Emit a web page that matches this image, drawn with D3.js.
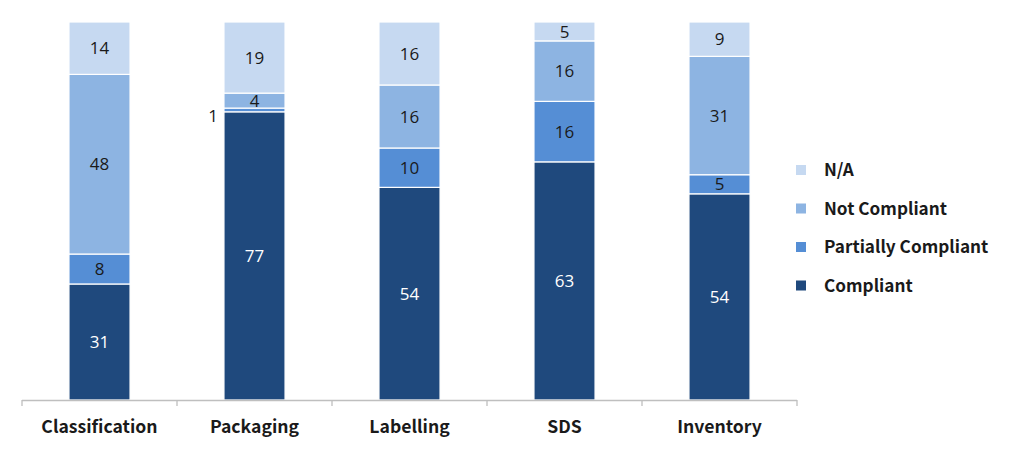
<!DOCTYPE html>
<html>
<head>
<meta charset="utf-8">
<script src="https://cdn.jsdelivr.net/npm/d3@7"></script>
<style>
html,body{margin:0;padding:0;background:#fff;}
svg{display:block;}
</style>
</head>
<body>
<svg id="chart" width="1024" height="454"></svg>
<script>
const categories = ["Classification","Packaging","Labelling","SDS","Inventory"];
const seriesNames = ["Compliant","Partially Compliant","Not Compliant","N/A"];
const compliant = [31,77,54,63,54];
const partially = [8,1,10,16,5];
const notCompliant = [48,4,16,16,31];
const na = [14,19,16,5,9];
const colors = ["#1F497D","#558ED5","#8DB4E2","#C6D9F1"];

const rows = categories.map((c,i)=>({
  cat:c,
  "Compliant":compliant[i],
  "Partially Compliant":partially[i],
  "Not Compliant":notCompliant[i],
  "N/A":na[i]
}));

const svg = d3.select("#chart");
const x = d3.scaleBand().domain(categories).range([22,797]).paddingInner(0.606).paddingOuter(0.303);
const y = d3.scaleLinear().domain([0,1]).range([400,22]);
const color = d3.scaleOrdinal().domain(seriesNames).range(colors);

const stack = d3.stack().keys(seriesNames).offset(d3.stackOffsetExpand);
const series = stack(rows);

const g = svg.append("g");
series.forEach(s=>{
  g.selectAll(null).data(s).enter().append("rect")
    .attr("x",d=>x(d.data.cat))
    .attr("width",x.bandwidth())
    .attr("y",d=>y(d[1]))
    .attr("height",d=>y(d[0])-y(d[1]))
    .attr("fill",color(s.key))
    .attr("stroke","#ffffff")
    .attr("stroke-width",1.2);
});

// labels
series.forEach(s=>{
  s.forEach(d=>{
    const v = d.data[s.key];
    const h = y(d[0])-y(d[1]);
    let tx = x(d.data.cat)+x.bandwidth()/2;
    let ty = (y(d[0])+y(d[1]))/2;
    let anchor = "middle";
    if (h < 10 && v <= 1) {
      tx = x(d.data.cat)-6;
      ty = ty + 6;
      anchor = "end";
    }
    svg.append("text")
      .attr("x",tx).attr("y",ty)
      .attr("dy","0.36em")
      .attr("text-anchor",anchor)
      .attr("font-family","'Open Sans', 'Noto Sans', sans-serif")
      .attr("font-size",17)
      .attr("fill", s.key==="Compliant" ? "#ffffff" : "#1a1a1a")
      .text(v);
  });
});

// x axis
const ax = svg.append("g").attr("transform","translate(0,400)");
ax.append("line").attr("x1",22).attr("x2",797).attr("y1",0.5).attr("y2",0.5)
  .attr("stroke","#bfbfbf").attr("stroke-width",1.3);
const bounds = d3.range(categories.length+1).map(i=>x.range()[0]+i*x.step());
ax.selectAll(".tk").data(bounds).enter().append("line")
  .attr("x1",d=>d).attr("x2",d=>d).attr("y1",0).attr("y2",6)
  .attr("stroke","#bfbfbf").attr("stroke-width",1.3);
ax.selectAll(".lbl").data(categories).enter().append("text")
  .attr("x",d=>x(d)+x.bandwidth()/2)
  .attr("y",27).attr("dy","0.35em")
  .attr("text-anchor","middle")
  .attr("font-family","'Noto Sans CJK JP', 'Noto Sans', sans-serif")
  .attr("font-weight",700)
  .attr("font-size",17.6)
  .attr("fill","#1a1a1a")
  .text(d=>d);

// legend
const legendOrder = seriesNames.slice().reverse();
const lg = svg.append("g");
legendOrder.forEach((k,i)=>{
  const cy = 170 + i*38.5;
  lg.append("rect").attr("x",796).attr("y",cy-5).attr("width",10).attr("height",10).attr("fill",color(k));
  lg.append("text").attr("x",824).attr("y",cy).attr("dy","0.35em")
    .attr("font-family","'Noto Sans CJK JP', 'Noto Sans', sans-serif")
    .attr("font-weight",700).attr("font-size",17.2).attr("fill","#1a1a1a")
    .text(k);
});
</script>
</body>
</html>
